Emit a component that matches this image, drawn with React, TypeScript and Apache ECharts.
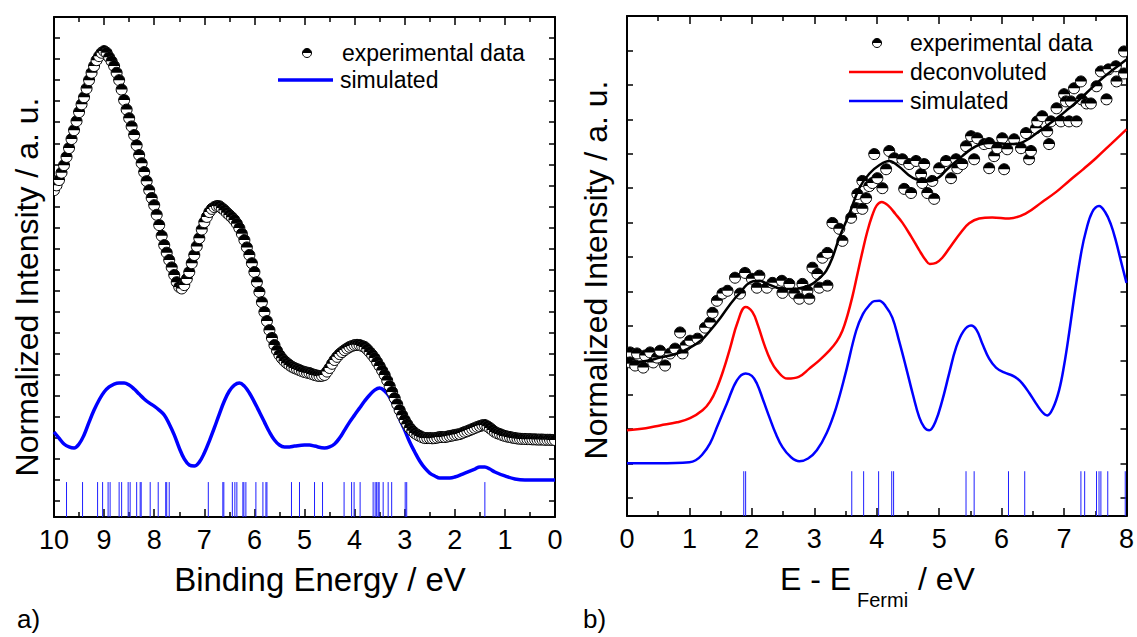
import React, { useEffect, useRef } from 'react';
import * as echarts from 'echarts';

const FONT = "'Liberation Sans', Arial, Helvetica, sans-serif";

// ---------- Panel a) ----------
const leftXMin = 0;
const leftXMax = 10;
const leftYMin = -0.76;
const leftYMax = 23;
const leftYTicks = [0, 1, 2, 3, 4, 5, 6, 7, 8, 9, 10, 11, 12, 13, 14, 15, 16, 17, 18, 19, 20, 21, 22];
const leftXTickLabels = [0, 1, 2, 3, 4, 5, 6, 7, 8, 9, 10];

// experimental points, sampled every 0.05 eV from 10.00 down to 0.00
const leftExpStartE = 10;
const leftExpStepE = 0.05;
const leftExpV = [
  14.77, 15.0, 15.25, 15.6, 15.96, 16.35, 16.77, 17.2, 17.62, 18.05,
  18.48, 18.85, 19.19, 19.6, 20.0, 20.35, 20.67, 20.95, 21.14, 21.3,
  21.38, 21.3, 21.09, 20.9, 20.67, 20.35, 20.0, 19.55, 19.05, 18.6,
  18.19, 17.8, 17.39, 16.9, 16.44, 16.05, 15.63, 15.2, 14.77, 14.4,
  14.06, 13.6, 13.11, 12.6, 12.16, 11.8, 11.45, 11.1, 10.74, 10.4,
  10.17, 10.1, 10.26, 10.55, 10.88, 11.3, 11.69, 12.1, 12.49, 12.9,
  13.25, 13.5, 13.73, 13.88, 13.97, 14.02, 14.01, 13.92, 13.82, 13.7,
  13.59, 13.48, 13.35, 13.18, 12.97, 12.7, 12.4, 12.05, 11.69, 11.3,
  10.88, 10.4, 9.93, 9.45, 8.98, 8.55, 8.12, 7.75, 7.41, 7.15,
  6.94, 6.78, 6.65, 6.55, 6.46, 6.38, 6.32, 6.27, 6.22, 6.17,
  6.13, 6.1, 6.08, 6.03, 5.99, 5.96, 5.94, 5.95, 5.99, 6.15,
  6.32, 6.52, 6.7, 6.85, 6.98, 7.08, 7.17, 7.25, 7.32, 7.37,
  7.41, 7.42, 7.41, 7.37, 7.32, 7.21, 7.08, 6.94, 6.79, 6.6,
  6.41, 6.2, 5.99, 5.73, 5.46, 5.18, 4.89, 4.6, 4.32, 4.08,
  3.85, 3.65, 3.47, 3.34, 3.23, 3.15, 3.09, 3.03, 2.99, 2.99,
  2.99, 2.98, 2.99, 3.01, 3.04, 3.04, 3.04, 3.06, 3.09, 3.11,
  3.14, 3.16, 3.18, 3.23, 3.28, 3.32, 3.37, 3.42, 3.47, 3.52,
  3.56, 3.6, 3.61, 3.55, 3.47, 3.37, 3.28, 3.22, 3.18, 3.13,
  3.09, 3.06, 3.04, 3.01, 2.99, 2.97, 2.96, 2.95, 2.95, 2.94,
  2.94, 2.93, 2.93, 2.92, 2.92, 2.92, 2.91, 2.91, 2.91, 2.9,
  2.9,
];

const leftSimE = [10.0, 9.9, 9.8, 9.7, 9.6, 9.5, 9.4, 9.3, 9.2, 9.1, 9.0, 8.9, 8.8, 8.7, 8.6, 8.5, 8.4, 8.3, 8.2, 8.1, 8.0, 7.9, 7.8, 7.7, 7.6, 7.5, 7.4, 7.3, 7.2, 7.1, 7.0, 6.9, 6.8, 6.7, 6.6, 6.5, 6.4, 6.3, 6.2, 6.1, 6.0, 5.9, 5.8, 5.7, 5.6, 5.5, 5.4, 5.3, 5.2, 5.0, 4.9, 4.8, 4.6, 4.5, 4.4, 4.3, 4.2, 4.1, 4.0, 3.9, 3.8, 3.7, 3.6, 3.5, 3.4, 3.3, 3.2, 3.1, 3.0, 2.9, 2.8, 2.7, 2.6, 2.5, 2.4, 2.3, 2.1, 2.0, 1.8, 1.6, 1.5, 1.4, 1.3, 1.2, 1.0, 0.8, 0.6, 0.0];
const leftSimV = [3.28, 2.99, 2.71, 2.57, 2.52, 2.71, 3.14, 3.75, 4.32, 4.8, 5.18, 5.42, 5.56, 5.61, 5.61, 5.51, 5.32, 5.08, 4.85, 4.66, 4.51, 4.32, 4.09, 3.66, 3.14, 2.52, 2.0, 1.71, 1.66, 1.85, 2.28, 2.85, 3.47, 4.13, 4.75, 5.23, 5.51, 5.61, 5.46, 5.13, 4.7, 4.23, 3.75, 3.28, 2.9, 2.66, 2.57, 2.57, 2.61, 2.66, 2.66, 2.61, 2.52, 2.57, 2.71, 2.99, 3.37, 3.75, 4.09, 4.42, 4.75, 5.04, 5.27, 5.37, 5.23, 4.94, 4.47, 3.9, 3.37, 2.8, 2.33, 1.9, 1.57, 1.33, 1.19, 1.09, 1.09, 1.14, 1.33, 1.52, 1.62, 1.62, 1.52, 1.38, 1.19, 1.05, 1.0, 1.0];

const leftSticksE = [9.75, 9.43, 9.13, 9.03, 8.92, 8.88, 8.7, 8.65, 8.52, 8.48, 8.35, 8.28, 8.26, 8.08, 7.92, 7.77, 7.75, 7.7, 6.92, 6.63, 6.61, 6.44, 6.39, 6.35, 6.23, 6.21, 6.17, 5.97, 5.83, 5.77, 5.75, 5.26, 5.1, 4.8, 4.64, 4.21, 4.06, 4.01, 3.89, 3.63, 3.59, 3.56, 3.53, 3.51, 3.43, 3.33, 3.26, 2.99, 2.96, 1.4];
const leftStickTop = 0.9;

// ---------- Panel b) ----------
const rightXMin = 0;
const rightXMax = 8;
const rightYMin = -0.52;
const rightYMax = 14;
const rightYTicks = [0, 1, 2, 3, 4, 5, 6, 7, 8, 9, 10, 11, 12, 13];
const rightXTickLabels = [0, 1, 2, 3, 4, 5, 6, 7, 8];

const rightExpE = [0.05, 0.05, 0.13, 0.16, 0.26, 0.29, 0.37, 0.42, 0.48, 0.53, 0.61, 0.69, 0.77, 0.85, 0.89, 0.94, 1.01, 1.13, 1.25, 1.33, 1.37, 1.44, 1.53, 1.61, 1.73, 1.81, 1.89, 2.0, 2.08, 2.12, 2.24, 2.33, 2.48, 2.49, 2.6, 2.68, 2.76, 2.81, 2.89, 2.92, 2.97, 3.05, 3.08, 3.13, 3.21, 3.21, 3.29, 3.4, 3.45, 3.59, 3.67, 3.69, 3.77, 3.77, 3.83, 3.88, 3.93, 3.96, 4.01, 4.09, 4.15, 4.2, 4.28, 4.41, 4.44, 4.52, 4.55, 4.63, 4.71, 4.73, 4.76, 4.81, 4.89, 4.92, 5.0, 5.11, 5.19, 5.27, 5.29, 5.37, 5.43, 5.51, 5.56, 5.61, 5.72, 5.8, 5.8, 5.88, 5.93, 6.01, 6.04, 6.09, 6.2, 6.31, 6.39, 6.44, 6.47, 6.55, 6.57, 6.65, 6.73, 6.76, 6.79, 6.88, 6.95, 7.0, 7.03, 7.08, 7.11, 7.16, 7.2, 7.27, 7.28, 7.36, 7.43, 7.52, 7.59, 7.68, 7.71, 7.83, 7.84, 7.96, 7.96];
const rightExpV = [4.23, 3.94, 3.85, 4.2, 3.79, 4.14, 4.23, 3.94, 4.08, 4.28, 3.85, 4.2, 4.34, 4.81, 4.2, 4.43, 4.57, 4.63, 4.95, 5.1, 5.38, 5.73, 5.94, 6.02, 6.4, 5.94, 6.54, 6.37, 6.11, 6.46, 6.11, 6.25, 6.31, 5.96, 6.22, 5.94, 5.79, 6.22, 6.02, 5.79, 6.69, 6.51, 6.11, 6.98, 6.17, 7.12, 7.99, 7.82, 7.47, 8.14, 8.42, 8.83, 9.21, 8.4, 8.71, 9.06, 9.15, 9.99, 9.29, 9.0, 9.55, 10.08, 9.87, 9.84, 8.98, 9.7, 8.86, 9.79, 9.41, 9.15, 9.7, 8.86, 9.21, 8.69, 9.58, 9.79, 9.29, 9.84, 9.58, 9.7, 10.22, 10.51, 9.84, 10.45, 10.28, 10.31, 9.58, 9.93, 10.16, 10.45, 9.55, 10.13, 10.42, 10.16, 10.6, 9.84, 10.08, 10.74, 10.94, 11.09, 10.65, 10.28, 10.94, 11.32, 10.94, 11.73, 11.52, 10.94, 11.52, 11.9, 10.94, 12.1, 11.58, 11.46, 11.46, 11.96, 12.39, 11.58, 12.45, 12.54, 12.1, 12.97, 12.33];

const rightFitE = [0, 0.3, 0.53, 0.8, 1.01, 1.2, 1.33, 1.47, 1.6, 1.72, 1.81, 1.92, 2.02, 2.12, 2.25, 2.4, 2.55, 2.72, 2.85, 2.97, 3.1, 3.19, 3.29, 3.4, 3.56, 3.72, 3.88, 4.05, 4.2, 4.36, 4.5, 4.63, 4.84, 5.0, 5.11, 5.25, 5.37, 5.5, 5.64, 5.78, 5.91, 6.1, 6.28, 6.44, 6.6, 6.76, 6.92, 7.08, 7.22, 7.35, 7.48, 7.6, 7.8, 8.0];
const rightFitV = [3.94, 3.98, 4.08, 4.2, 4.37, 4.6, 4.86, 5.17, 5.5, 5.78, 5.96, 6.2, 6.3, 6.31, 6.22, 6.11, 6.07, 6.08, 6.13, 6.22, 6.42, 6.6, 6.98, 7.56, 8.25, 9.0, 9.42, 9.68, 9.79, 9.62, 9.4, 9.26, 9.2, 9.32, 9.52, 9.75, 9.93, 10.12, 10.26, 10.31, 10.31, 10.28, 10.3, 10.44, 10.65, 10.86, 11.08, 11.32, 11.53, 11.75, 11.97, 12.17, 12.46, 12.74];

const rightDeconvE = [0, 0.3, 0.53, 0.8, 1.01, 1.21, 1.33, 1.44, 1.55, 1.65, 1.77, 1.9, 2.01, 2.1, 2.2, 2.3, 2.4, 2.57, 2.75, 2.92, 3.08, 3.24, 3.36, 3.45, 3.53, 3.61, 3.69, 3.77, 3.85, 3.93, 4.0, 4.08, 4.18, 4.3, 4.41, 4.55, 4.68, 4.78, 4.85, 4.95, 5.05, 5.18, 5.35, 5.48, 5.64, 5.85, 6.12, 6.39, 6.65, 6.88, 7.08, 7.3, 7.51, 7.75, 8.0];
const rightDeconvV = [1.97, 2.03, 2.11, 2.2, 2.32, 2.55, 2.8, 3.2, 3.75, 4.35, 5.1, 5.55, 5.4, 5.0, 4.45, 4.0, 3.71, 3.47, 3.52, 3.76, 4.0, 4.28, 4.55, 4.86, 5.3, 5.85, 6.5, 7.15, 7.75, 8.22, 8.5, 8.6, 8.5, 8.25, 8.0, 7.6, 7.2, 6.92, 6.8, 6.83, 6.98, 7.3, 7.72, 7.98, 8.12, 8.15, 8.12, 8.27, 8.6, 8.9, 9.21, 9.54, 9.87, 10.28, 10.71];

const rightSimE = [0, 0.5, 1.0, 1.1, 1.2, 1.33, 1.45, 1.6, 1.76, 1.9, 2.0, 2.08, 2.18, 2.28, 2.38, 2.49, 2.62, 2.76, 2.9, 3.04, 3.2, 3.35, 3.5, 3.67, 3.78, 3.88, 3.96, 4.04, 4.14, 4.25, 4.36, 4.47, 4.58, 4.68, 4.76, 4.84, 4.94, 5.05, 5.16, 5.27, 5.39, 5.51, 5.6, 5.69, 5.8, 5.91, 6.04, 6.17, 6.25, 6.33, 6.44, 6.55, 6.65, 6.73, 6.82, 6.92, 7.0, 7.08, 7.18, 7.28, 7.35, 7.45, 7.56, 7.66, 7.75, 7.83, 7.91, 8.0];
const rightSimV = [1.01, 1.01, 1.04, 1.1, 1.25, 1.59, 2.1, 2.75, 3.42, 3.62, 3.55, 3.33, 2.85, 2.35, 1.88, 1.48, 1.2, 1.07, 1.15, 1.39, 1.9, 2.63, 3.62, 4.86, 5.35, 5.6, 5.72, 5.73, 5.58, 5.24, 4.55, 3.79, 3.0, 2.35, 2.06, 1.97, 2.22, 2.84, 3.62, 4.37, 4.85, 5.01, 4.88, 4.49, 4.05, 3.79, 3.65, 3.56, 3.47, 3.33, 3.06, 2.75, 2.5, 2.4, 2.6, 3.13, 3.85, 4.78, 6.05, 7.18, 7.75, 8.3, 8.48, 8.3, 7.95, 7.47, 6.89, 6.25];

const rightSticksE = [1.87, 1.9, 3.6, 3.79, 4.03, 4.24, 4.27, 5.43, 5.56, 6.11, 6.37, 7.27, 7.33, 7.52, 7.56, 7.59, 7.7, 7.98];
const rightStickTop = 0.78;

// ---------- helpers ----------
const AXIS_COLOR = '#000';

function halfMarker(r: number) {
  return (params: any, api: any) => {
    const p = api.coord([api.value(0), api.value(1)]);
    return {
      type: 'group',
      children: [
        { type: 'circle', shape: { cx: p[0], cy: p[1], r }, style: { fill: '#fff', stroke: '#000', lineWidth: 1 } },
        { type: 'sector', shape: { cx: p[0], cy: p[1], r0: 0, r, startAngle: Math.PI, endAngle: Math.PI * 2 }, style: { fill: '#000' } },
      ],
    };
  };
}

function stickItem(bottom: number) {
  return (params: any, api: any) => {
    const a = api.coord([api.value(0), api.value(1)]);
    const b = api.coord([api.value(0), bottom]);
    return { type: 'line', shape: { x1: a[0], y1: a[1], x2: b[0], y2: b[1] }, style: { stroke: '#1f1fff', lineWidth: 1 } };
  };
}

function xAxisDef(grid: number, min: number, max: number, inverse: boolean, pos: 'top' | 'bottom', labels: number[] | null) {
  return {
    type: 'value',
    gridIndex: grid,
    min,
    max,
    interval: 1,
    inverse,
    position: pos,
    axisLine: { show: true, onZero: false, lineStyle: { color: AXIS_COLOR, width: 2 } },
    axisTick: { show: true, inside: true, length: 8, lineStyle: { color: AXIS_COLOR, width: 1.5 } },
    minorTick: { show: true, splitNumber: 2, length: 5, lineStyle: { color: AXIS_COLOR, width: 1.5 } },
    axisLabel: labels
      ? { show: true, customValues: labels, color: '#000', fontSize: 27, fontFamily: FONT, margin: 9 }
      : { show: false },
    splitLine: { show: false },
    minorSplitLine: { show: false },
  };
}

function yAxisDef(grid: number, min: number, max: number, pos: 'left' | 'right', ticks: number[]) {
  return {
    type: 'value',
    gridIndex: grid,
    min,
    max,
    position: pos,
    axisLine: { show: true, onZero: false, lineStyle: { color: AXIS_COLOR, width: 2 } },
    axisTick: { show: true, inside: true, length: 6, customValues: ticks, lineStyle: { color: AXIS_COLOR, width: 1.5 } },
    axisLabel: { show: false },
    splitLine: { show: false },
  };
}

const legendMarker = (cx: number, cy: number, r: number) => ({
  type: 'group',
  children: [
    { type: 'circle', shape: { cx, cy, r }, style: { fill: '#fff', stroke: '#000', lineWidth: 1 } },
    { type: 'sector', shape: { cx, cy, r0: 0, r, startAngle: Math.PI, endAngle: Math.PI * 2 }, style: { fill: '#000' } },
  ],
});

const txt = (text: string, x: number, y: number, size: number, align = 'left', rotation = 0) => ({
  type: 'text',
  x,
  y,
  rotation,
  style: { text, fontSize: size, fontFamily: FONT, fill: '#000', align, verticalAlign: 'middle' },
});

const lineSeries = (name: string, xi: number, data: number[][], color: string, width: number, z: number) => ({
  name,
  type: 'line',
  xAxisIndex: xi,
  yAxisIndex: xi,
  data,
  smooth: 0.4,
  showSymbol: false,
  symbol: 'none',
  lineStyle: { color, width },
  z,
});

export default function App() {
  const ref = useRef<HTMLDivElement>(null);
  useEffect(() => {
    if (!ref.current) return;
    const chart = echarts.init(ref.current, undefined, { renderer: 'svg' });

    const leftExpData = leftExpV.map((v, i) => [leftExpStartE - i * leftExpStepE, v]);
    const leftSimData = leftSimE.map((e, i) => [e, leftSimV[i]]);
    const leftStickData = leftSticksE.map((e) => [e, leftStickTop]);
    const rightExpData = rightExpE.map((e, i) => [e, rightExpV[i]]);
    const rightFitData = rightFitE.map((e, i) => [e, rightFitV[i]]);
    const rightDeconvData = rightDeconvE.map((e, i) => [e, rightDeconvV[i]]);
    const rightSimData = rightSimE.map((e, i) => [e, rightSimV[i]]);
    const rightStickData = rightSticksE.map((e) => [e, rightStickTop]);

    const option: any = {
      animation: false,
      backgroundColor: '#fff',
      grid: [
        { left: 54, top: 17, width: 501, height: 500, containLabel: false },
        { left: 627, top: 16, width: 501, height: 500, containLabel: false },
      ],
      xAxis: [
        xAxisDef(0, leftXMin, leftXMax, true, 'bottom', leftXTickLabels),
        xAxisDef(0, leftXMin, leftXMax, true, 'top', null),
        xAxisDef(1, rightXMin, rightXMax, false, 'bottom', rightXTickLabels),
        xAxisDef(1, rightXMin, rightXMax, false, 'top', null),
      ],
      yAxis: [
        yAxisDef(0, leftYMin, leftYMax, 'left', leftYTicks),
        yAxisDef(0, leftYMin, leftYMax, 'right', leftYTicks),
        yAxisDef(1, rightYMin, rightYMax, 'left', rightYTicks),
        yAxisDef(1, rightYMin, rightYMax, 'right', rightYTicks),
      ],
      series: [
        {
          name: 'sticks a', type: 'custom', xAxisIndex: 0, yAxisIndex: 0, clip: true,
          renderItem: stickItem(leftYMin), data: leftStickData, z: 1,
        },
        lineSeries('simulated a', 0, leftSimData, '#0000ff', 3.5, 2),
        {
          name: 'experimental a', type: 'custom', xAxisIndex: 0, yAxisIndex: 0, clip: true,
          renderItem: halfMarker(5.5), data: leftExpData, z: 3,
        },
        {
          name: 'sticks b', type: 'custom', xAxisIndex: 2, yAxisIndex: 2, clip: true,
          renderItem: stickItem(rightYMin), data: rightStickData, z: 1,
        },
        lineSeries('simulated b', 2, rightSimData, '#0000ff', 2.5, 2),
        lineSeries('deconvoluted b', 2, rightDeconvData, '#ff0000', 2.5, 2),
        {
          name: 'experimental b', type: 'custom', xAxisIndex: 2, yAxisIndex: 2, clip: true,
          renderItem: halfMarker(5.5), data: rightExpData, z: 3,
        },
        lineSeries('fit b', 2, rightFitData, '#000000', 2.5, 4),
      ],
      graphic: [
        // panel a legend
        legendMarker(307, 53, 4.5),
        txt('experimental data', 342, 53, 23),
        { type: 'line', shape: { x1: 278, y1: 80, x2: 333, y2: 80 }, style: { stroke: '#0000ff', lineWidth: 3.5 } },
        txt('simulated', 340, 80, 23),
        // panel b legend
        legendMarker(877, 43, 4.5),
        txt('experimental data', 910, 43, 23),
        { type: 'line', shape: { x1: 849, y1: 72, x2: 903, y2: 72 }, style: { stroke: '#ff0000', lineWidth: 2.5 } },
        txt('deconvoluted', 910, 72, 23),
        { type: 'line', shape: { x1: 849, y1: 101, x2: 903, y2: 101 }, style: { stroke: '#0000ff', lineWidth: 2.5 } },
        txt('simulated', 910, 101, 23),
        // axis titles
        txt('Binding Energy / eV', 320, 579, 33, 'center'),
        txt('E - E', 780, 579, 32),
        txt('Fermi', 857, 600, 20),
        txt('/ eV', 918, 579, 32),
        txt('Normalized Intensity / a. u.', 27, 287, 32, 'center', Math.PI / 2),
        txt('Normalized Intensity / a. u.', 596, 270, 32, 'center', Math.PI / 2),
        // panel labels
        txt('a)', 17, 619, 26),
        txt('b)', 583, 619, 26),
      ],
    };
    chart.setOption(option);
    return () => chart.dispose();
  }, []);
  return <div ref={ref} style={{ position: 'fixed', left: 0, top: 0, width: 1137, height: 637 }} />;
}
